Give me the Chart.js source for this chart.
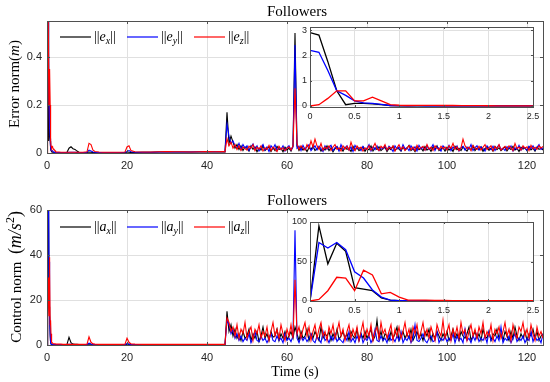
<!DOCTYPE html>
<html>
<head>
<meta charset="utf-8">
<title>Followers</title>
<script src="https://cdn.jsdelivr.net/npm/chart.js@4.4.0/dist/chart.umd.min.js"></script>
<style>
  html, body { margin: 0; padding: 0; background: #fff; }
  #wrap { position: relative; width: 550px; height: 382px; overflow: hidden; }
  #wrap canvas { position: absolute; }
</style>
</head>
<body>
<div id="wrap">
  <canvas id="errMain" width="550" height="175" style="left:0;top:0"></canvas>
  <canvas id="errInset" width="275" height="110" style="left:270px;top:17px"></canvas>
  <canvas id="ctrlMain" width="550" height="207" style="left:0;top:175px"></canvas>
  <canvas id="ctrlInset" width="275" height="110" style="left:270px;top:212px"></canvas>
</div>
<script>
// sample times (s), shared by all six series; the first 26 are the zoomed 0..2.5 s window
const timeS = [
  0,0.1,0.2,0.3,0.4,0.5,0.6,0.7,0.8,0.9,
  1,1.1,1.2,1.3,1.4,1.5,1.6,1.7,1.8,1.9,
  2,2.1,2.2,2.3,2.4,2.5,
  3,3.5,4,4.5,5,5.5,6,6.5,7,7.5,
  8,9,10,10.5,11,11.5,12,13,14,16,
  18,19.5,20,20.5,21,22,24,26,28,30,
  32,34,36,38,40,42,44,44.5,
  45,45.5,46,46.5,47,47.5,48,48.5,49,49.5,
  50,50.5,51,51.5,52,52.5,53,53.5,54,54.5,
  55,55.5,56,56.5,57,57.5,58,58.5,59,59.5,
  60,60.5,61,61.5,62,62.5,63,63.5,64,64.5,
  65,65.5,66,66.5,67,67.5,68,68.5,69,69.5,
  70,70.5,71,71.5,72,72.5,73,73.5,74,74.5,
  75,75.5,76,76.5,77,77.5,78,78.5,79,79.5,
  80,80.5,81,81.5,82,82.5,83,83.5,84,84.5,
  85,85.5,86,86.5,87,87.5,88,88.5,89,89.5,
  90,90.5,91,91.5,92,92.5,93,93.5,94,94.5,
  95,95.5,96,96.5,97,97.5,98,98.5,99,99.5,
  100,100.5,101,101.5,102,102.5,103,103.5,104,104.5,
  105,105.5,106,106.5,107,107.5,108,108.5,109,109.5,
  110,110.5,111,111.5,112,112.5,113,113.5,114,114.5,
  115,115.5,116,116.5,117,117.5,118,118.5,119,119.5,
  120,120.5,121,121.5,122,122.5,123,123.5,124
];
const insetCount = 26;

// error norms (m)
const errX = [
  2.9,2.8,1.75,0.6,0.05,0.1,0.1,0.08,0.05,0.02,
  0.01,0.008,0.006,0.005,0.004,0.004,0.003,0.003,0.003,0.002,
  0.002,0.002,0.002,0.002,0.002,0.002,
  .002,.002,.002,.002,.003,.02,.026,.018,.015,.008,
  .003,.002,.002,.004,.003,.002,.002,.002,.002,.002,
  .002,.002,.003,.003,.002,.002,.003,.003,.004,.004,
  .004,.004,.004,.004,.005,.004,.004,.004,
  .17,.04,.07,.045,.02,.035,.015,.03,.01,.025,
  .02,.008,.03,.015,.025,.005,.02,.012,.03,.01,
  .018,.025,.006,.022,.01,.028,.015,.02,.005,.024,
  .012,.02,.008,.03,.5,.03,.01,.025,.012,.02,
  .006,.022,.015,.028,.01,.018,.025,.008,.02,.012,
  .03,.01,.022,.005,.018,.026,.012,.02,.008,.024,
  .015,.02,.006,.028,.012,.022,.01,.018,.025,.007,
  .02,.013,.03,.008,.022,.015,.026,.01,.018,.024,
  .006,.02,.014,.028,.01,.022,.016,.008,.025,.012,
  .02,.032,.01,.018,.006,.024,.014,.02,.009,.027,
  .012,.02,.007,.025,.015,.03,.01,.018,.022,.008,
  .024,.012,.02,.006,.028,.014,.02,.01,.025,.016,
  .008,.022,.013,.03,.01,.02,.015,.026,.007,.019,
  .024,.011,.02,.008,.027,.014,.022,.01,.018,.025,
  .009,.021,.015,.028,.012,.02,.006,.024,.016,.022,
  .01,.026,.013,.02,.008,.024,.015,.02,.012
];
const errY = [
  2.2,2.12,1.4,0.6,0.42,0.2,0.12,0.1,0.06,0.02,
  0.012,0.01,0.012,0.01,0.008,0.006,0.005,0.004,0.004,0.003,
  0.003,0.003,0.003,0.002,0.002,0.002,
  .002,.002,.002,.002,.002,.003,.003,.003,.003,.002,
  .002,.002,.003,.012,.008,.004,.003,.002,.002,.002,
  .002,.003,.006,.01,.005,.003,.003,.003,.004,.004,
  .004,.004,.004,.005,.005,.005,.005,.005,
  .12,.07,.04,.05,.03,.02,.04,.015,.035,.02,
  .03,.01,.025,.038,.015,.03,.008,.022,.035,.012,
  .025,.006,.03,.018,.035,.01,.024,.015,.03,.008,
  .022,.03,.012,.025,.45,.02,.028,.01,.032,.015,
  .025,.035,.01,.02,.03,.012,.028,.018,.006,.03,
  .015,.024,.032,.01,.022,.028,.008,.035,.015,.02,
  .03,.012,.025,.006,.032,.018,.022,.01,.028,.015,
  .02,.035,.008,.025,.014,.03,.01,.022,.018,.03,
  .012,.028,.02,.006,.03,.016,.025,.01,.035,.018,
  .022,.01,.03,.015,.026,.008,.032,.018,.024,.012,
  .03,.015,.02,.035,.01,.026,.018,.008,.03,.02,
  .014,.032,.01,.025,.018,.03,.008,.022,.028,.012,
  .025,.016,.035,.01,.022,.03,.012,.026,.018,.008,
  .03,.02,.014,.028,.01,.024,.033,.015,.02,.01,
  .026,.018,.03,.008,.022,.015,.032,.012,.025,.02,
  .01,.028,.018,.03,.012,.024,.035,.015,.022
];
const errZ = [
  0,0.05,0.3,0.6,0.6,0.2,0.2,0.35,0.2,0.05,
  0.03,0.02,0.026,0.028,0.024,0.02,0.02,0.016,0.014,0.012,
  0.01,0.008,0.006,0.005,0.005,0.004,
  .004,.003,.003,.003,.003,.003,.003,.003,.003,.003,
  .003,.003,.005,.04,.035,.012,.006,.004,.003,.003,
  .003,.004,.025,.03,.01,.005,.004,.004,.005,.006,
  .005,.005,.004,.005,.006,.005,.006,.005,
  .06,.03,.045,.02,.035,.015,.03,.01,.025,.018,
  .012,.028,.02,.035,.01,.024,.016,.03,.008,.022,
  .015,.032,.01,.025,.018,.006,.028,.014,.022,.01,
  .02,.026,.012,.03,.27,.04,.015,.03,.02,.012,
  .035,.02,.05,.025,.058,.03,.015,.04,.012,.025,
  .018,.03,.01,.025,.035,.015,.022,.008,.03,.016,
  .028,.012,.045,.02,.01,.03,.018,.025,.008,.022,
  .015,.03,.012,.024,.04,.018,.01,.028,.02,.035,
  .012,.025,.018,.03,.008,.022,.035,.015,.026,.01,
  .02,.03,.014,.025,.01,.032,.018,.022,.028,.012,
  .035,.016,.024,.01,.03,.02,.014,.028,.018,.025,
  .012,.03,.02,.04,.015,.026,.01,.022,.058,.03,
  .018,.025,.01,.032,.02,.015,.028,.012,.024,.035,
  .014,.022,.03,.01,.026,.018,.035,.012,.02,.028,
  .015,.03,.022,.01,.04,.018,.025,.012,.03,.02,
  .026,.01,.032,.018,.024,.015,.03,.02,.028
];

// control norms (m/s^2)
const accX = [
  0,95,47,73,63,17,15,13,4,1,
  0.5,0.4,0.3,0.3,0.3,0.2,0.2,0.2,0.2,0.2,
  0.2,0.2,0.2,0.2,0.2,0.2,
  .2,.2,.2,.2,.3,3.4,1,.4,.3,.3,
  .2,.2,.2,.5,.3,.2,.2,.2,.2,.2,
  .2,.2,.3,.3,.2,.2,.2,.2,.2,.2,
  .2,.2,.2,.2,.2,.2,.2,.2,
  15,6,9,4,7,3,5,2,6,3,
  4,7,2,5,3,6,1.5,4,8,3,
  5,2,6,3.5,4,7,2,5,3,6,
  2.5,4,6,3,8,5,2,6,3,4,
  7,2,5,3,6,4,2,8,3,5,
  4,6,2,5,3,7,2.5,4,6,3,
  5,2,6,4,3,7,2,5,3,6,
  3,5,7,2,4,11,3,6,2,5,
  4,2,6,3,5,8,2,4,6,3,
  5,3,7,2,4,6,3,5,2,6,
  4,7,2,5,3,6,4,2,5,3,
  6,2,4,7,3,5,2,6,4,3,
  5,8,2,4,6,3,5,2,7,4,
  3,6,2,5,4,7,3,5,2,6,
  4,2,6,3,8,4,2,5,3,6,
  2,5,4,7,3,6,2,4,5
];
const accY = [
  0,74,67,74,65,37,29,14,5,1,
  0.4,0.3,0.3,0.2,0.2,0.2,0.2,0.2,0.2,0.2,
  0.2,0.2,0.2,0.2,0.2,0.2,
  .2,.2,.2,.2,.2,.3,.3,.2,.2,.2,
  .2,.2,.2,.8,.4,.2,.2,.2,.2,.2,
  .2,.2,.6,.4,.2,.2,.2,.2,.2,.2,
  .2,.2,.2,.2,.2,.2,.2,.2,
  11,9,5,7,3,5,2,4,1.5,3,
  2,5,1,3,6,2,1.5,4,2,3,
  1,3,5,2,1.5,4,2,3,1,5,
  2,3,1.5,4,51,3,1,4,2,3.5,
  1.5,3,5,2,1,4,2.5,1,6,2,
  3,1,4,2,5,1.5,3,2,1,4,
  2,6,1.5,3,1,4,2,5,1,3,
  2,4,1,3,7,2,1.5,4,2,3,
  1,5,2,3,1.5,4,2,6,1,3,
  2,4,1,3,9,2,1.5,3,5,2,
  1,3,4,1.5,2,6,1,3,2,4,
  1.5,3,2,5,1,4,2,3,1,7,
  2,3,1,4,2,5,1.5,3,2,4,
  1,6,2,3,1.5,4,2,8,1,3,
  2,4,1,3,5,1.5,3,2,4,1,
  3,2,6,1.5,4,2,3,1,5
];
const accZ = [
  0,2,13,30,29,13,39,33,9,11,
  5,1,1.2,1,0.8,0.7,0.6,0.6,0.5,0.5,
  0.5,0.5,0.5,0.4,0.4,0.4,
  .4,.4,.3,.3,.3,.3,.3,.3,.3,.3,
  .3,.3,.4,3.6,1.2,.5,.4,.3,.3,.3,
  .3,.4,3,1.2,.5,.4,.3,.3,.3,.3,
  .3,.3,.3,.3,.3,.3,.3,.3,
  12,10,6,8,4,9,3,7,5,10,
  3,6,8,2,7,5,9,3,6,4,
  8,2,6,10,4,7,3,9,5,2,
  7,4,9,3,29,5,8,3,7,10,
  4,8,2,6,9,3,7,10,4,6,
  2,8,5,9,3,6,10,4,7,2,
  6,9,3,7,4,8,2,6,10,3,
  7,4,9,2,6,8,3,10,5,7,
  3,6,9,2,7,4,8,3,6,10,
  4,7,2,8,5,9,3,6,10,4,
  7,3,8,5,2,9,6,4,11,3,
  6,9,2,7,4,8,3,10,5,7,
  2,6,9,4,7,3,8,5,10,3,
  6,4,9,2,7,5,8,3,6,10,
  4,7,2,9,5,3,8,6,10,4,
  7,3,9,5,2,8,4,6,3
];

// tick labels
const timeTicks = [0, 20, 40, 60, 80, 100, 120];
const errTicks = [0, 0.2, 0.4];
const ctrlTicks = [0, 20, 40, 60];
const zoomTimeTicks = [0, 0.5, 1, 1.5, 2, 2.5];
const errZoomTicks = [0, 1, 2, 3];
const ctrlZoomTicks = [0, 50, 100];

const seriesColors = ['#000000', '#0000ff', '#ff0000'];
const serif = '"Liberation Serif", "Times New Roman", serif';
const sans = '"Liberation Sans", Arial, Helvetica, sans-serif';
const gridColor = '#e0e0e0';
const frameColor = '#4f4f4f';
const tickColor = '#262626';

function pts(vals, n) {
  const out = [];
  const len = n || timeS.length;
  for (let i = 0; i < len; i++) out.push({ x: timeS[i], y: vals[i] });
  return out;
}

function lineSets(a, b, c, n, w) {
  // red drawn on top, black at the bottom
  return [
    { data: pts(a, n), borderColor: seriesColors[0], borderWidth: w, order: 3 },
    { data: pts(b, n), borderColor: seriesColors[1], borderWidth: w, order: 2 },
    { data: pts(c, n), borderColor: seriesColors[2], borderWidth: w, order: 1 }
  ];
}

// rich text: parts are [text, font, dy]
function drawRich(ctx, parts, x, y, center) {
  let w = 0;
  parts.forEach(p => { ctx.font = p[1]; w += ctx.measureText(p[0]).width; });
  let cx = center ? x - w / 2 : x;
  parts.forEach(p => {
    ctx.font = p[1];
    ctx.fillText(p[0], cx, y + (p[2] || 0));
    cx += ctx.measureText(p[0]).width;
  });
}

// white box behind the plot, outer frame and inward ticks
function framePlugin(tickLen) {
  return {
    id: 'frame',
    beforeDraw(chart) {
      const a = chart.chartArea, ctx = chart.ctx;
      ctx.save();
      ctx.fillStyle = '#ffffff';
      ctx.fillRect(a.left, a.top, a.right - a.left, a.bottom - a.top);
      ctx.restore();
    },
    afterDraw(chart) {
      const a = chart.chartArea, ctx = chart.ctx;
      ctx.save();
      ctx.strokeStyle = frameColor;
      ctx.lineWidth = 1;
      ctx.beginPath();
      chart.scales.x.ticks.forEach(t => {
        const px = Math.round(chart.scales.x.getPixelForValue(t.value)) + 0.5;
        ctx.moveTo(px, a.bottom); ctx.lineTo(px, a.bottom - tickLen);
        ctx.moveTo(px, a.top); ctx.lineTo(px, a.top + tickLen);
      });
      chart.scales.y.ticks.forEach(t => {
        const py = Math.round(chart.scales.y.getPixelForValue(t.value)) + 0.5;
        ctx.moveTo(a.left, py); ctx.lineTo(a.left + tickLen, py);
        ctx.moveTo(a.right, py); ctx.lineTo(a.right - tickLen, py);
      });
      ctx.stroke();
      ctx.strokeRect(Math.round(a.left) + 0.5, Math.round(a.top) + 0.5,
        Math.round(a.right - a.left), Math.round(a.bottom - a.top));
      ctx.restore();
    }
  };
}

// titles, axis labels and the legend
function textPlugin(o) {
  return {
    id: 'texts',
    afterDraw(chart) {
      const ctx = chart.ctx;
      ctx.save();
      ctx.fillStyle = '#000';
      ctx.textBaseline = 'alphabetic';
      ctx.textAlign = 'left';
      drawRich(ctx, [['Followers', '15px ' + serif]], 297, o.titleY, true);

      ctx.save();
      ctx.translate(o.yLabelX, o.yLabelY);
      ctx.rotate(-Math.PI / 2);
      drawRich(ctx, o.yLabel, 0, 0, true);
      ctx.restore();

      if (o.xLabel) drawRich(ctx, o.xLabel, 295, o.xLabelY, true);

      const lineX = [60, 127, 194];
      const subs = ['x', 'y', 'z'];
      for (let i = 0; i < 3; i++) {
        ctx.beginPath();
        ctx.strokeStyle = seriesColors[i];
        ctx.lineWidth = 1.2;
        ctx.moveTo(lineX[i], o.legendY);
        ctx.lineTo(lineX[i] + 31, o.legendY);
        ctx.stroke();
        ctx.fillStyle = '#000';
        drawRich(ctx, [
          ['||', '14px ' + serif],
          [o.sym, 'italic 14px ' + serif],
          [subs[i], 'italic 10px ' + serif, 3],
          ['||', '14px ' + serif]
        ], lineX[i] + 34, o.legendY + 4, false);
      }
      ctx.restore();
    }
  };
}

function makeChart(id, cfg) {
  const plugins = [framePlugin(cfg.tickLen)];
  if (cfg.texts) plugins.push(textPlugin(cfg.texts));
  return new Chart(document.getElementById(id), {
    type: 'line',
    data: { datasets: cfg.datasets },
    plugins: plugins,
    options: {
      responsive: false,
      animation: false,
      events: [],
      layout: { padding: cfg.padding },
      elements: { point: { radius: 0 }, line: { tension: 0 } },
      plugins: {
        legend: { display: false },
        tooltip: { enabled: false }
      },
      scales: {
        x: {
          type: 'linear',
          min: cfg.xMin, max: cfg.xMax,
          afterBuildTicks: s => { s.ticks = cfg.xTicks.map(v => ({ value: v })); },
          afterFit: s => { s.height = cfg.xH; },
          grid: { color: gridColor, lineWidth: 1, drawTicks: false },
          border: { display: false },
          ticks: {
            color: tickColor, padding: cfg.xPad, maxRotation: 0, autoSkip: false,
            font: { family: sans, size: cfg.fontSize },
            callback: v => String(v)
          }
        },
        y: {
          type: 'linear',
          min: cfg.yMin, max: cfg.yMax,
          afterBuildTicks: s => { s.ticks = cfg.yTicks.map(v => ({ value: v })); },
          afterFit: s => { s.width = cfg.yW; },
          grid: { color: gridColor, lineWidth: 1, drawTicks: false },
          border: { display: false },
          ticks: {
            color: tickColor, padding: cfg.yPad, autoSkip: false,
            font: { family: sans, size: cfg.fontSize },
            callback: v => String(v)
          }
        }
      }
    }
  });
}

// top: error norm
makeChart('errMain', {
  datasets: lineSets(errX, errY, errZ, 0, 1.1),
  padding: { left: 0, top: 21, right: 7, bottom: 0 },
  xMin: 0, xMax: 124, xTicks: timeTicks, xH: 22, xPad: 6,
  yMin: 0, yMax: 0.55, yTicks: errTicks, yW: 47, yPad: 5,
  fontSize: 11, tickLen: 3,
  texts: {
    titleY: 16,
    yLabelX: 19, yLabelY: 84,
    yLabel: [['Error norm(', '15px ' + serif], ['m', 'italic 15px ' + serif], [')', '15px ' + serif]],
    legendY: 37, sym: 'e'
  }
});

makeChart('errInset', {
  datasets: lineSets(errX, errY, errZ, insetCount, 1.3),
  padding: { left: 0, top: 10, right: 12, bottom: 0 },
  xMin: 0, xMax: 2.5, xTicks: zoomTimeTicks, xH: 20, xPad: 4,
  yMin: -0.04, yMax: 3.12, yTicks: errZoomTicks, yW: 40, yPad: 3,
  fontSize: 9, tickLen: 2
});

// bottom: control norm
makeChart('ctrlMain', {
  datasets: lineSets(accX, accY, accZ, 0, 1.1),
  padding: { left: 0, top: 35, right: 7, bottom: 0 },
  xMin: 0, xMax: 124, xTicks: timeTicks, xH: 37, xPad: 6,
  yMin: 0, yMax: 60, yTicks: ctrlTicks, yW: 47, yPad: 5,
  fontSize: 11, tickLen: 3,
  texts: {
    titleY: 30,
    yLabelX: 21, yLabelY: 102,
    yLabel: [
      ['Control norm  ', '15px ' + serif],
      ['(', '18px ' + serif],
      ['m/s', 'italic 18px ' + serif],
      ['2', '12px ' + serif, -7],
      [')', '18px ' + serif]
    ],
    xLabel: [['Time (s)', '14px ' + serif]], xLabelY: 201,
    legendY: 52, sym: 'a'
  }
});

makeChart('ctrlInset', {
  datasets: lineSets(accX, accY, accZ, insetCount, 1.3),
  padding: { left: 0, top: 10, right: 12, bottom: 0 },
  xMin: 0, xMax: 2.5, xTicks: zoomTimeTicks, xH: 21, xPad: 4,
  yMin: 0, yMax: 100, yTicks: ctrlZoomTicks, yW: 40, yPad: 3,
  fontSize: 9, tickLen: 2
});
</script>
</body>
</html>
